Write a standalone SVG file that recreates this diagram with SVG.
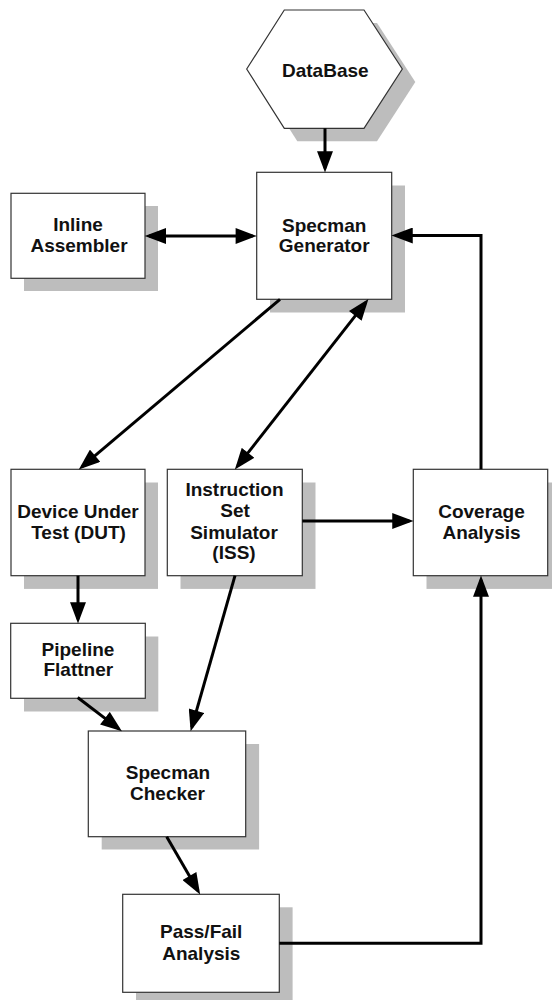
<svg xmlns="http://www.w3.org/2000/svg" width="552" height="1000" viewBox="0 0 552 1000">
<style>
.sh{fill:#bdbdbd;stroke:none}
.bx{fill:#ffffff;stroke:#333333;stroke-width:1.2}
.t{font-family:"Liberation Sans",Arial,sans-serif;font-weight:bold;font-size:19px;fill:#111111;text-anchor:middle}
.c{fill:none;stroke:#000000;stroke-width:3;stroke-linecap:butt;stroke-linejoin:miter}
</style>
<defs>
<marker id="ah" markerUnits="userSpaceOnUse" markerWidth="22" markerHeight="16" viewBox="0 0 20 15" refX="16" refY="7.5" orient="auto-start-reverse">
<path d="M0,0 L20,7.5 L0,15 z" fill="#000000"/>
</marker>
</defs>
<rect width="552" height="1000" fill="#ffffff"/>

<g id="database">
<polygon class="sh" points="259.7,82 297.3,23 377,23 415.3,82 377,141.3 297.3,141.3"/>
<polygon class="bx" points="246.7,69 284.3,10 364,10 402.3,69 364,128.3 284.3,128.3"/>
<text class="t" x="325.3" y="76.5">DataBase</text>
</g>

<g id="inline-assembler">
<rect class="sh" x="24" y="206" width="134" height="85"/>
<rect class="bx" x="11" y="193.3" width="134" height="85"/>
<text class="t" x="78" y="231">Inline</text>
<text class="t" x="79" y="251.7">Assembler</text>
</g>

<g id="specman-generator">
<rect class="sh" x="270" y="185.5" width="135" height="127"/>
<rect class="bx" x="256.7" y="172.3" width="135" height="127"/>
<text class="t" x="324.2" y="231.7">Specman</text>
<text class="t" x="324.2" y="252">Generator</text>
</g>

<g id="dut">
<rect class="sh" x="24" y="482.5" width="134" height="106.4"/>
<rect class="bx" x="11" y="469.3" width="134" height="106.4"/>
<text class="t" x="78" y="517.7">Device Under</text>
<text class="t" x="78.5" y="538.7">Test (DUT)</text>
</g>

<g id="iss">
<rect class="sh" x="180.5" y="482.5" width="135" height="106.4"/>
<rect class="bx" x="167.3" y="469.3" width="135" height="106.4"/>
<text class="t" x="234.5" y="496.2">Instruction</text>
<text class="t" x="235" y="517.3">Set</text>
<text class="t" x="234" y="538.5">Simulator</text>
<text class="t" x="234" y="559">(ISS)</text>
</g>

<g id="coverage-analysis">
<rect class="sh" x="426.5" y="482.5" width="134.4" height="106.4"/>
<rect class="bx" x="413.3" y="469.3" width="134.4" height="106.4"/>
<text class="t" x="481.5" y="517.7">Coverage</text>
<text class="t" x="481.5" y="539">Analysis</text>
</g>

<g id="pipeline-flattner">
<rect class="sh" x="24" y="636.5" width="134.3" height="75"/>
<rect class="bx" x="10.7" y="623.3" width="134.6" height="75"/>
<text class="t" x="78" y="655.7">Pipeline</text>
<text class="t" x="78.3" y="676.3">Flattner</text>
</g>

<g id="specman-checker">
<rect class="sh" x="101.7" y="744" width="157.4" height="105.5"/>
<rect class="bx" x="88.3" y="731" width="157.4" height="105.7"/>
<text class="t" x="168" y="778.7">Specman</text>
<text class="t" x="167.5" y="800">Checker</text>
</g>

<g id="pass-fail-analysis">
<rect class="sh" x="136" y="907.3" width="156.6" height="98"/>
<rect class="bx" x="122.7" y="894.3" width="156.6" height="98"/>
<text class="t" x="201.2" y="937.7">Pass/Fail</text>
<text class="t" x="201.3" y="959.5">Analysis</text>
</g>

<g id="connectors">
<line class="c" x1="325" y1="128.3" x2="325" y2="168.3" marker-end="url(#ah)"/>
<line class="c" x1="149" y1="236" x2="252.7" y2="236" marker-start="url(#ah)" marker-end="url(#ah)"/>
<line class="c" x1="280" y1="299.3" x2="82.05" y2="466.7" marker-end="url(#ah)"/>
<line class="c" x1="237.5" y1="466.2" x2="365.8" y2="302.4" marker-start="url(#ah)" marker-end="url(#ah)"/>
<line class="c" x1="302.3" y1="521" x2="409.3" y2="521" marker-end="url(#ah)"/>
<polyline class="c" points="481,469.3 481,235.5 395.7,235.5" marker-end="url(#ah)"/>
<line class="c" x1="78" y1="575.7" x2="78" y2="619.3" marker-end="url(#ah)"/>
<line class="c" x1="77.7" y1="697.5" x2="118.5" y2="728.6" marker-end="url(#ah)"/>
<line class="c" x1="235" y1="575.7" x2="191.8" y2="727.2" marker-end="url(#ah)"/>
<line class="c" x1="166.7" y1="836.7" x2="198" y2="890.8" marker-end="url(#ah)"/>
<polyline class="c" points="279.3,943.3 481,943.3 481,579.7" marker-end="url(#ah)"/>
</g>
</svg>
